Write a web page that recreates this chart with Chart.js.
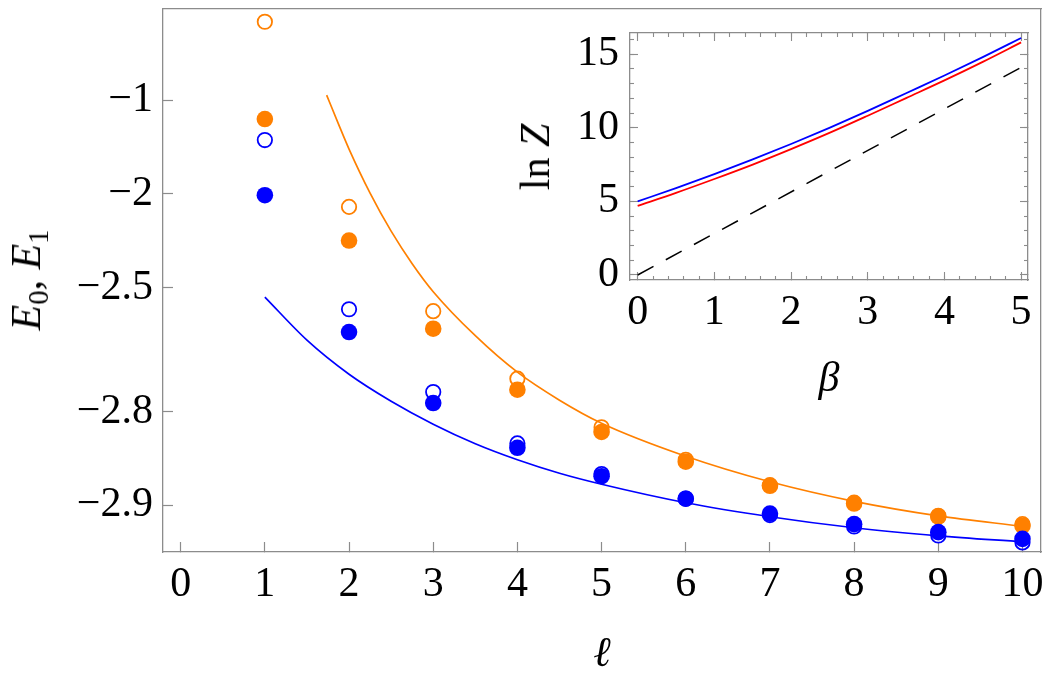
<!DOCTYPE html>
<html>
<head>
<meta charset="utf-8">
<script src="https://cdn.jsdelivr.net/npm/chart.js@4.4.1/dist/chart.umd.min.js"></script>
<style>
  body { margin: 0; background: #fff; }
  #wrap { position: relative; width: 1050px; height: 680px; overflow: hidden; }
  canvas { position: absolute; top: 0; }
  #main { left: 0; }
  #inset { left: 490px; }
  .ylab {
    position: absolute; font-family: "Liberation Serif", "Times New Roman", serif;
    font-size: 42px; line-height: 50px; white-space: nowrap;
    transform: translate(-50%, -50%) rotate(-90deg);
  }
  .ylab sub { font-size: 0.68em; line-height: 0; vertical-align: -0.28em; font-style: normal; }
</style>
</head>
<body>
<div id="wrap">
  <canvas id="main" width="1050" height="680"></canvas>
  <canvas id="inset" width="560" height="420"></canvas>
  <div class="ylab" style="left:26px;top:280px"><i>E</i><sub>0</sub>, <i>E</i><sub>1</sub></div>
  <div class="ylab" style="left:535px;top:157px">ln <i>Z</i></div>
</div>
<script>
// main plot: energies against l
const ells = [1, 2, 3, 4, 5, 6, 7, 8, 9, 10]
const e0Filled = [-2.010, -2.640, -2.787, -2.847, -2.876, -2.895, -2.906, -2.913, -2.918, -2.922]
const e0Open   = [-1.512, -2.574, -2.769, -2.842, -2.874, -2.895, -2.907, -2.9145, -2.920, -2.924]
const e1Filled = [-1.262, -2.292, -2.631, -2.765, -2.828, -2.862, -2.8845, -2.8987, -2.908, -2.914]
const e1Open   = [0.568, -2.092, -2.580, -2.745, -2.822, -2.860, -2.884, -2.898, -2.9075, -2.913]

// the two fitted curves
const fitL0 = [1, 1.5, 2, 2.5, 3, 3.5, 4, 4.5, 5, 6, 7, 8, 9, 10]
const fitE0 = [-2.534, -2.661, -2.7365, -2.7842, -2.8179, -2.8424, -2.860, -2.8733, -2.8832, -2.8981, -2.9081, -2.9153, -2.9202, -2.9237]
const fitL1 = [1.734, 1.875, 2, 2.25, 2.5, 2.75, 3, 3.5, 4, 4.5, 5, 6, 7, 8, 9, 10]
const fitE1 = [-0.925, -1.326, -1.608, -1.995, -2.2413, -2.4033, -2.5149, -2.6497, -2.7325, -2.7825, -2.8166, -2.8563, -2.881, -2.897, -2.9075, -2.9144]

const xTicks = [0, 1, 2, 3, 4, 5, 6, 7, 8, 9, 10]
const yTicks = [-1, -2, -2.5, -2.8, -2.9]
const yTickLabels = ["−1", "−2", "−2.5", "−2.8", "−2.9"]

// inset: ln Z against beta
const betas   = [0, 0.5, 1, 1.5, 2, 2.5, 3, 3.5, 4, 4.5, 5]
const lnZBlue = [5.0, 5.9, 6.85, 7.85, 8.9, 10.0, 11.15, 12.35, 13.55, 14.8, 16.1]
const lnZRed  = [4.7, 5.58, 6.52, 7.5, 8.55, 9.65, 10.82, 12.02, 13.22, 14.48, 15.8]
const betaRef = [0, 5]
const lnZRef  = [0, 14.1]
const insetXTicks = [0, 1, 2, 3, 4, 5]
const insetYTicks = [0, 5, 10, 15]

// y axis of the main plot is logarithmic in E + 3
const SHIFT = 3
const GRAY = "#8c8c8c"
const BLUE = "#0000ff"
const ORANGE = "#ff8000"

Chart.defaults.font.family = '"Liberation Serif", "Times New Roman", serif'
Chart.defaults.color = "#000"

function pts(xs, ys, shift) {
    return xs.map((x, i) => ({ x: x, y: ys[i] + (shift || 0) }))
}
function setTicks(values) {
    return scale => { scale.ticks = values.map(v => ({ value: v })) }
}
// fixed axis size, and no extra room for labels that overhang the plot
function fixSize(axis, size) {
    return s => {
        if (axis == "x") s.height = size; else s.width = size
        s.paddingTop = 0; s.paddingBottom = 0; s.paddingLeft = 0; s.paddingRight = 0
    }
}
function range(a, b, step) {
    let out = []
    for (let v = a; v <= b + 1e-9; v += step) out.push(Math.round(v * 100) / 100)
    return out
}

const common = {
    responsive: false,
    animation: false,
    devicePixelRatio: 1,
    events: [],
    plugins: { legend: { display: false }, tooltip: { enabled: false } }
}

// ---- main chart ----
const xMin = -0.21, xMax = 10.22
const yMin = -2.9292, yMax = 0.921

new Chart(document.getElementById("main"), {
    type: "scatter",
    data: {
        datasets: [
            { data: pts(ells, e0Filled, SHIFT), pointRadius: 8.3, pointBackgroundColor: BLUE, pointBorderWidth: 0, xAxisID: "x", yAxisID: "y" },
            { data: pts(ells, e1Filled, SHIFT), pointRadius: 8.3, pointBackgroundColor: ORANGE, pointBorderWidth: 0, xAxisID: "x", yAxisID: "y" },
            { data: pts(ells, e0Open, SHIFT), pointRadius: 7.2, pointBackgroundColor: "rgba(0,0,0,0)", pointBorderColor: BLUE, pointBorderWidth: 1.8, xAxisID: "x", yAxisID: "y" },
            { data: pts(ells, e1Open, SHIFT), pointRadius: 7.2, pointBackgroundColor: "rgba(0,0,0,0)", pointBorderColor: ORANGE, pointBorderWidth: 1.8, xAxisID: "x", yAxisID: "y" },
            { type: "line", data: pts(fitL0, fitE0, SHIFT), borderColor: BLUE, borderWidth: 1.7, pointRadius: 0, cubicInterpolationMode: "monotone", fill: false, xAxisID: "x", yAxisID: "y" },
            { type: "line", data: pts(fitL1, fitE1, SHIFT), borderColor: ORANGE, borderWidth: 1.7, pointRadius: 0, cubicInterpolationMode: "monotone", fill: false, xAxisID: "x", yAxisID: "y" }
        ]
    },
    options: {
        ...common,
        layout: { padding: { top: 9, right: 9, left: 0, bottom: 0 } },
        scales: {
            x: {
                type: "linear", position: "bottom", min: xMin, max: xMax, bounds: "data",
                afterBuildTicks: setTicks(xTicks),
                afterFit: fixSize("x", 128),
                grid: { drawOnChartArea: false, tickLength: -10, tickColor: GRAY, tickWidth: 1.2 },
                border: { color: GRAY, width: 1.3 },
                ticks: { font: { size: 42 }, padding: 18, autoSkip: false, maxRotation: 0, callback: v => String(v) },
                title: { display: true, text: "ℓ", font: { size: 42, style: "italic" }, padding: { top: 0, bottom: 0 } }
            },
            y: {
                type: "logarithmic", position: "left", min: yMin + SHIFT, max: yMax + SHIFT, bounds: "data",
                afterBuildTicks: setTicks(yTicks.map(v => v + SHIFT)),
                afterFit: fixSize("y", 163),
                grid: { drawOnChartArea: false, tickLength: -10, tickColor: GRAY, tickWidth: 1.2 },
                border: { color: GRAY, width: 1.3 },
                ticks: { font: { size: 42 }, padding: 20, autoSkip: false, callback: (v, i) => yTickLabels[i] }
            },
            xTop: {
                axis: "x", type: "linear", position: "top", min: xMin, max: xMax,
                afterFit: fixSize("x", 0),
                grid: { display: false }, ticks: { display: false },
                border: { color: GRAY, width: 1.3 }
            },
            yRight: {
                axis: "y", type: "linear", position: "right", min: 0, max: 1,
                afterFit: fixSize("y", 0),
                grid: { display: false }, ticks: { display: false },
                border: { color: GRAY, width: 1.3 }
            }
        }
    }
})

// ---- inset ----
const bMin = -0.1, bMax = 5.09
const zMin = -0.34, zMax = 16.44

function tickAxis(axis, position, min, max, values, len, weight, border, size) {
    return {
        axis: axis, type: "linear", position: position, min: min, max: max, bounds: "data", weight: weight,
        afterBuildTicks: setTicks(values),
        afterFit: fixSize(axis, size),
        grid: { drawOnChartArea: false, tickLength: len, tickColor: GRAY, tickWidth: 1.1 },
        border: { display: border, color: GRAY, width: 1.3 },
        ticks: { display: false }
    }
}

let insetScales = {
    x: tickAxis("x", "bottom", bMin, bMax, insetXTicks, -8, 1, true, 140),
    xMinor: tickAxis("x", "bottom", bMin, bMax, range(0, 5, 0.2), -4, 0, false, 0),
    xTop: tickAxis("x", "top", bMin, bMax, insetXTicks, -8, 1, true, 0),
    xTopMinor: tickAxis("x", "top", bMin, bMax, range(0, 5, 0.2), -4, 0, false, 0),
    y: tickAxis("y", "left", zMin, zMax, insetYTicks, -8, 1, true, 140),
    yMinor: tickAxis("y", "left", zMin, zMax, range(0, 16, 1), -4, 0, false, 0),
    yRight: tickAxis("y", "right", zMin, zMax, insetYTicks, -8, 1, true, 0),
    yRightMinor: tickAxis("y", "right", zMin, zMax, range(0, 16, 1), -4, 0, false, 0)
}
insetScales.x.ticks = { display: true, font: { size: 42 }, padding: 16, autoSkip: false, maxRotation: 0 }
insetScales.x.title = { display: true, text: "β", font: { size: 42, style: "italic" }, padding: { top: 0, bottom: 15 } }
insetScales.y.ticks = { display: true, font: { size: 42 }, padding: 19, autoSkip: false }

new Chart(document.getElementById("inset"), {
    type: "line",
    data: {
        datasets: [
            { data: pts(betas, lnZBlue), borderColor: BLUE, borderWidth: 1.8, pointRadius: 0, cubicInterpolationMode: "monotone", xAxisID: "x", yAxisID: "y" },
            { data: pts(betas, lnZRed), borderColor: "#ff0000", borderWidth: 1.8, pointRadius: 0, cubicInterpolationMode: "monotone", xAxisID: "x", yAxisID: "y" },
            { data: pts(betaRef, lnZRef), borderColor: "#000", borderWidth: 1.5, borderDash: [18, 14], pointRadius: 0, xAxisID: "x", yAxisID: "y" }
        ]
    },
    options: {
        ...common,
        layout: { padding: { top: 33, right: 22, left: 0, bottom: 0 } },
        scales: insetScales
    }
})
</script>
</body>
</html>
